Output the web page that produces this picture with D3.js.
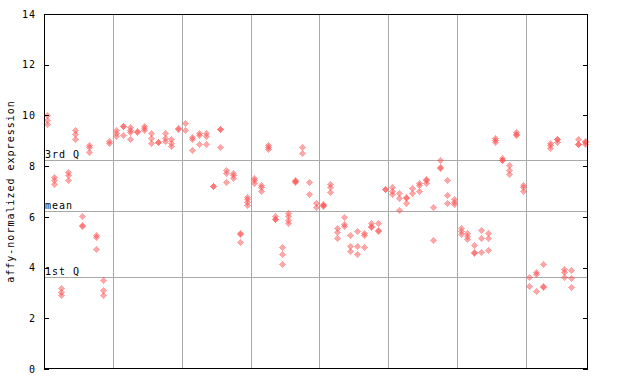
<!DOCTYPE html>
<html>
<head>
<meta charset="utf-8">
<script src="https://cdn.jsdelivr.net/npm/d3@7"></script>
<style>
  body { margin: 0; background: #fff; }
  text { font-family: "DejaVu Sans Mono", monospace; font-size: 10px; letter-spacing: 1px; fill: #000; }
</style>
</head>
<body>
<svg id="canvas"></svg>
<script>
// expression values per sample (79 samples, 2-4 replicates each)
const expr = [
  [10.0, 9.82, 9.68], [7.58, 7.45, 7.3], [3.2, 3.05, 2.93], [7.78, 7.65, 7.45], [9.42, 9.28, 9.06],
  [6.02, 5.68, 5.62], [8.85, 8.75, 8.55], [5.28, 5.2, 4.73], [3.51, 3.1, 2.92], [8.98, 8.92],
  [9.43, 9.32, 9.19], [9.6, 9.58, 9.23], [9.56, 9.43, 9.33, 9.06], [9.37, 9.33], [9.6, 9.49, 9.43],
  [9.3, 9.12, 8.9], [8.97, 8.95], [9.3, 9.12, 9.0], [9.06, 8.93, 8.81], [9.52, 9.45],
  [9.69, 9.43], [9.16, 9.06, 8.62], [9.3, 9.23, 8.86], [9.3, 9.19, 8.86], [7.23, 7.21],
  [9.47, 9.45, 8.74], [7.85, 7.74, 7.36], [7.74, 7.65, 7.55], [5.35, 5.33, 5.0], [6.8, 6.69, 6.59, 6.45],
  [7.55, 7.45, 7.32], [7.26, 7.16, 7.03], [8.83, 8.77, 8.66], [6.03, 5.92, 5.9], [4.82, 4.52, 4.14],
  [6.14, 6.03, 5.88, 5.74], [7.45, 7.43, 7.36], [8.74, 8.5], [7.36, 6.89], [6.55, 6.4],
  [6.5, 6.48, 6.42], [7.28, 7.19, 6.97], [5.55, 5.39, 5.15], [5.98, 5.71, 5.62], [5.27, 4.86, 4.65],
  [5.44, 4.85, 4.52], [5.38, 5.28, 4.81], [5.74, 5.63, 5.61], [5.74, 5.48, 5.46], [7.1, 7.08],
  [7.16, 7.03, 6.89], [6.93, 6.73, 6.27], [6.78, 6.76, 6.53], [7.12, 6.93], [7.35, 7.24, 7.02],
  [7.49, 7.47, 7.32], [6.38, 5.09], [8.23, 7.96, 7.94], [7.44, 6.86, 6.53], [6.69, 6.6, 6.51],
  [5.56, 5.44, 5.32], [5.35, 5.25, 5.11], [4.88, 4.61, 4.59], [5.47, 5.17, 4.61], [5.35, 5.15, 4.68],
  [9.12, 9.03, 8.94], [8.33, 8.26, 8.24], [8.03, 7.85, 7.69], [9.33, 9.26, 9.24], [7.26, 7.16, 7.02],
  [3.64, 3.27], [3.84, 3.76, 3.06], [4.13, 3.27, 3.25], [8.93, 8.83, 8.73], [9.09, 9.07, 8.97],
  [3.93, 3.84, 3.64], [3.9, 3.58, 3.22], [9.06, 8.88, 8.86], [8.99, 8.97, 8.86]
];

// summary lines
const refValues = [8.23, 6.23, 3.62];
const refLabels = ["3rd Q", "mean", "1st Q"];

// group separators (sample index where a new group starts)
const groupStarts = [10, 20, 30, 40, 50, 60, 70];

const yTicks = [0, 2, 4, 6, 8, 10, 12, 14];

const width = 640;
const height = 384;
const plotL = 44, plotR = 588, plotT = 14, plotB = 369;
const red = "#ff4d4d";

const canvas = d3.select("#canvas").attr("width", width).attr("height", height);

const xScale = d3.scaleBand().domain(d3.range(expr.length)).range([plotL, plotR]);
const yScale = d3.scaleLinear().domain([0, 14]).range([plotB, plotT]);

const defs = canvas.append("defs");
const pat = defs.append("pattern")
  .attr("id", "chk")
  .attr("width", 2).attr("height", 2)
  .attr("patternUnits", "userSpaceOnUse");
pat.append("rect").attr("width", 1).attr("height", 1).attr("fill", red);
pat.append("rect").attr("x", 1).attr("y", 1).attr("width", 1).attr("height", 1).attr("fill", red);

// vertical group lines
canvas.append("g")
  .selectAll("line")
  .data(groupStarts)
  .enter()
  .append("line")
  .attr("x1", (d) => Math.round(xScale(d)) + 0.5)
  .attr("x2", (d) => Math.round(xScale(d)) + 0.5)
  .attr("y1", plotT)
  .attr("y2", plotB)
  .attr("stroke", "#a9a9a9");

// quartile / mean lines
canvas.append("g")
  .selectAll("line")
  .data(refValues)
  .enter()
  .append("line")
  .attr("x1", plotL)
  .attr("x2", plotR)
  .attr("y1", (d) => Math.round(yScale(d)) + 0.5)
  .attr("y2", (d) => Math.round(yScale(d)) + 0.5)
  .attr("stroke", "#a9a9a9");

canvas.append("g")
  .selectAll("text")
  .data(refValues)
  .enter()
  .append("text")
  .attr("x", plotL + 1)
  .attr("y", (d) => Math.round(yScale(d)) - 2)
  .text((d, i) => refLabels[i]);

// points
const points = [];
expr.forEach((vals, i) => vals.forEach((v) => points.push({ i: i, v: v })));

canvas.append("g")
  .selectAll("path")
  .data(points)
  .enter()
  .append("path")
  .attr("transform", (d) => {
    const cx = Math.round(xScale(d.i) + xScale.bandwidth() / 2) + 0.5;
    const cy = Math.round(yScale(d.v)) + 0.5;
    return `translate(${cx},${cy})`;
  })
  .attr("d", "M0,-3.5L3.5,0L0,3.5L-3.5,0Z")
  .attr("fill", "url(#chk)")
  .attr("shape-rendering", "crispEdges");

// axes
const yAxis = d3.axisLeft(yScale).tickValues(yTicks).tickSizeInner(-5).tickSizeOuter(0).tickPadding(8);
const yAxisR = d3.axisRight(yScale).tickValues(yTicks).tickSizeInner(-5).tickSizeOuter(0).tickFormat("");

const gl = canvas.append("g").attr("transform", `translate(${plotL}, 0)`).call(yAxis);
const gr = canvas.append("g").attr("transform", `translate(${plotR}, 0)`).call(yAxisR);
[gl, gr].forEach((g) => {
  g.select(".domain").remove();
  g.selectAll("line").attr("stroke", "#000").attr("shape-rendering", "crispEdges");
  g.selectAll("text").attr("font-family", null).attr("font-size", null);
});

canvas.append("rect")
  .attr("x", plotL + 0.5)
  .attr("y", plotT + 0.5)
  .attr("width", plotR - plotL - 1)
  .attr("height", plotB - plotT - 1)
  .attr("fill", "none")
  .attr("stroke", "#000")
  .attr("shape-rendering", "crispEdges");

canvas.append("text")
  .attr("transform", `translate(14, ${(plotT + plotB) / 2}) rotate(-90)`)
  .attr("text-anchor", "middle")
  .text("affy-normalized expression");
</script>
</body>
</html>
